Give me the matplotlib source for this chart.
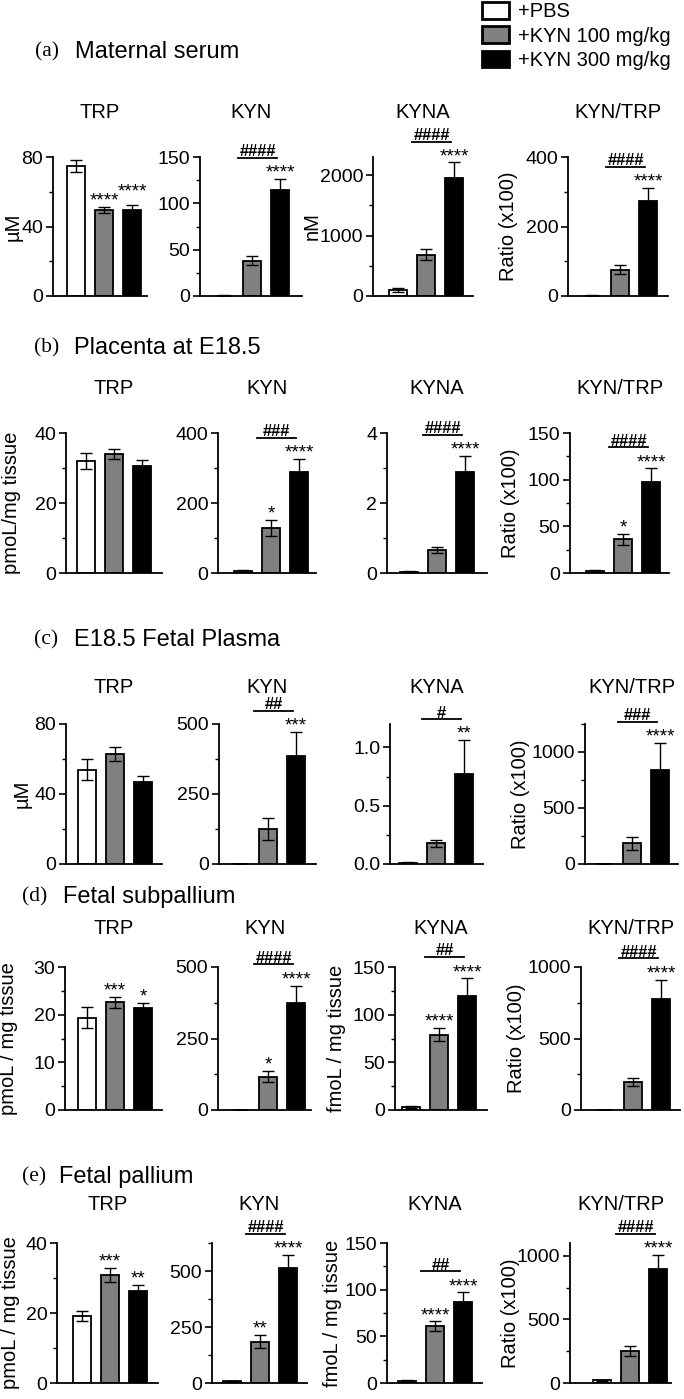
import numpy as np
import matplotlib.pyplot as plt
from matplotlib.patches import Patch
from matplotlib.ticker import MultipleLocator, FormatStrFormatter
from matplotlib.transforms import blended_transform_factory

W, H = 684, 1399

groups = ["+PBS", "+KYN 100 mg/kg", "+KYN 300 mg/kg"]
colors = ["white", "#808080", "black"]
metrics = ["TRP", "KYN", "KYNA", "KYN/TRP"]
letters = ["(a)", "(b)", "(c)", "(d)", "(e)"]
sections = ["Maternal serum", "Placenta at E18.5", "E18.5 Fetal Plasma",
            "Fetal subpallium", "Fetal pallium"]

# mean values [PBS, 100, 300] for TRP, KYN, KYNA, KYN/TRP
serum_mean = [[75, 49.5, 49.5], [0.5, 38, 114], [100, 680, 1960], [1, 76, 272]]
serum_err = [[3.5, 2, 3], [0.3, 5, 12.5], [30, 90, 250], [0.5, 14, 40]]
placenta_mean = [[32, 34, 30.6], [5, 129, 289], [0.04, 0.65, 2.9], [2, 36, 98]]
placenta_err = [[2.4, 1.3, 1.7], [3, 22, 37], [0.02, 0.08, 0.45], [0.7, 6, 14]]
plasma_mean = [[54, 63, 47], [1, 125, 385], [0.012, 0.18, 0.77], [3, 185, 840]]
plasma_err = [[6, 4, 3.4], [0.5, 39, 86], [0.004, 0.03, 0.29], [1, 60, 240]]
subpallium_mean = [[19.4, 22.6, 21.4], [1, 117, 374], [3, 79, 120], [1, 196, 775]]
subpallium_err = [[2.2, 1.2, 1.0], [0.5, 20, 60], [1, 7, 18], [0.5, 30, 135]]
pallium_mean = [[19.2, 30.8, 26.4], [8, 185, 512], [2.5, 61, 87], [22, 250, 895]]
pallium_err = [[1.5, 2, 1.7], [2, 28, 60], [0.5, 5, 10], [5, 38, 110]]

means = [serum_mean, placenta_mean, plasma_mean, subpallium_mean, pallium_mean]
errs = [serum_err, placenta_err, plasma_err, subpallium_err, pallium_err]

# significance marks vs PBS
serum_stars = [["", "****", "****"], ["", "", "****"], ["", "", "****"], ["", "", "****"]]
placenta_stars = [["", "", ""], ["", "*", "****"], ["", "", "****"], ["", "*", "****"]]
plasma_stars = [["", "", ""], ["", "", "***"], ["", "", "**"], ["", "", "****"]]
subpallium_stars = [["", "***", "*"], ["", "*", "****"], ["", "****", "****"], ["", "", "****"]]
pallium_stars = [["", "***", "**"], ["", "**", "****"], ["", "****", "****"], ["", "", "****"]]
stars = [serum_stars, placenta_stars, plasma_stars, subpallium_stars, pallium_stars]

# 100 vs 300 mg/kg
hashes = [["", "####", "####", "####"],
          ["", "###", "####", "####"],
          ["", "##", "#", "###"],
          ["", "####", "##", "####"],
          ["", "####", "##", "####"]]

ylims = [[80, 150, 2300, 400],
         [40, 400, 4, 150],
         [80, 500, 1.2, 1250],
         [30, 500, 150, 1000],
         [40, 625, 150, 1100]]
ysteps = [[40, 50, 1000, 200],
          [20, 200, 2, 50],
          [40, 250, 0.5, 500],
          [10, 250, 50, 500],
          [20, 250, 50, 500]]
ylabels = [["µM", "", "nM", "Ratio (x100)"],
           ["pmoL/mg tissue", "", "", "Ratio (x100)"],
           ["µM", "", "", "Ratio (x100)"],
           ["pmoL / mg tissue", "", "fmoL / mg tissue", "Ratio (x100)"],
           ["pmoL / mg tissue", "", "fmoL / mg tissue", "Ratio (x100)"]]

# layout in pixels: axes top, axes bottom, title y, section title y, letter x, name x
rows = [(157, 296, 113, 52, 35, 75),
        (433, 573, 388, 348, 34, 74),
        (724, 864, 688, 640, 34, 74),
        (967, 1110, 928, 897, 22, 63),
        (1243, 1383, 1205, 1177, 22, 59)]
# per panel: spine x, right end x, first bar centre x, ylabel centre x
panels = [[(53, 147, 76, 13), (200, 302, 224, 0), (373, 473, 398, 312), (568, 668, 592, 508)],
          [(66, 162, 86, 12), (218, 316, 243, 0), (387, 487, 409, 0), (570, 669, 595, 510)],
          [(66, 162, 87, 22), (219, 316, 240, 0), (390, 483, 408, 0), (585, 678, 604, 520)],
          [(65, 162, 87, 9), (218, 311, 240, 0), (395, 487, 411, 337), (581, 680, 605, 516)],
          [(57, 158, 82, 11), (212, 307, 232, 0), (387, 482, 407, 333), (570, 671, 602, 510)]]
step_px = 28.0
bar_w = 0.66

plt.rcParams["font.family"] = ["Liberation Sans", "DejaVu Sans"]

fig = plt.figure(figsize=(W / 100, H / 100), dpi=100)

x = np.arange(3)
for r in range(5):
    top, bot, ty, sy, lx, nx = rows[r]
    fig.text(lx / W, 1 - sy / H, letters[r], family="Liberation Serif",
             fontsize=15.5, ha="left", va="center")
    fig.text(nx / W, 1 - sy / H, sections[r], fontsize=17, ha="left", va="center")
    for c in range(4):
        x0, x1, b0, lab_x = panels[r][c]
        ax = fig.add_axes([x0 / W, 1 - bot / H, (x1 - x0) / W, (bot - top) / H])
        m = np.array(means[r][c])
        e = np.array(errs[r][c])
        ymax = ylims[r][c]
        ax.bar(x, m, width=bar_w, yerr=e, color=colors, edgecolor="black",
               linewidth=1.3, capsize=4,
               error_kw=dict(elinewidth=1.0, capthick=1.0, ecolor="black"))
        ax.set_xlim(-(b0 - x0) / step_px, 2 + (x1 - b0 - 2 * step_px) / step_px)
        ax.set_ylim(0, ymax)
        ax.yaxis.set_major_locator(MultipleLocator(ysteps[r][c]))
        ax.yaxis.set_minor_locator(MultipleLocator(ysteps[r][c] / 2))
        if ysteps[r][c] < 1:
            ax.yaxis.set_major_formatter(FormatStrFormatter("%.1f"))
        ax.set_xticks([])
        for s in ["top", "right"]:
            ax.spines[s].set_visible(False)
        for s in ["left", "bottom"]:
            ax.spines[s].set_linewidth(1.3)
        ax.tick_params(axis="y", which="major", direction="out", length=5,
                       width=1.2, labelsize=14, pad=2)
        ax.tick_params(axis="y", which="minor", direction="out", length=3, width=1.0)
        fig.text(((x0 + x1) / 2) / W, 1 - ty / H, metrics[c], fontsize=14.5,
                 ha="center", va="center")
        if ylabels[r][c]:
            ax.set_ylabel(ylabels[r][c], fontsize=14.5, va="center")
            ax.yaxis.set_label_coords(lab_x / W, 0.5,
                                      transform=blended_transform_factory(fig.transFigure, ax.transAxes))
        tops = m + e
        prev_y = None
        for i in range(3):
            lab = stars[r][c][i]
            if not lab:
                prev_y = None
                continue
            sy_ = tops[i]
            if prev_y is not None and len(lab) + len(stars[r][c][i - 1]) > 6:
                sy_ = max(sy_, prev_y + 0.065 * ymax)
            ax.text(x[i], sy_ + 0.01 * ymax, lab, fontsize=13.5,
                    ha="center", va="baseline", clip_on=False)
            prev_y = sy_
        if hashes[r][c]:
            ly = tops[2] + 0.15 * ymax
            ax.plot([0.5, 1.9], [ly, ly], color="black", linewidth=1.3, clip_on=False)
            ax.text(1.2, ly + 0.012 * ymax, hashes[r][c], fontsize=12,
                    fontweight="bold", ha="center", va="baseline", clip_on=False)

handles = [Patch(facecolor=col, edgecolor="black", linewidth=2) for col in colors]
fig.legend(handles, groups, loc="upper left", bbox_to_anchor=(482 / W, 1 - 2 / H),
           frameon=False, fontsize=14.5, handlelength=1.35, handleheight=0.9,
           handletextpad=0.45, labelspacing=0.25, borderpad=0, borderaxespad=0)

fig.savefig("out.png", dpi=100)
